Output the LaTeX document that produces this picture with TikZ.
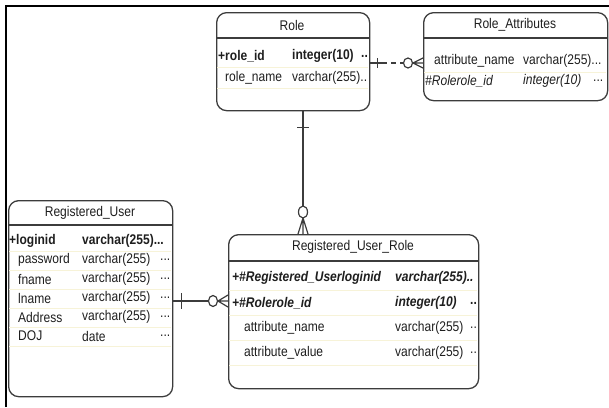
\documentclass[tikz,border=0pt]{standalone}
\usepackage{fontspec}
\newfontfamily\erfont[FakeStretch=0.86]{Liberation Sans}
\usetikzlibrary{calc,positioning}
\definecolor{eline}{HTML}{3C3C3C}
\definecolor{etext}{HTML}{1E1E1E}
\definecolor{erow}{HTML}{F7F3D8}
\tikzset{
  etable/.style={draw=eline, line width=1.3pt, rounded corners=10pt,
                 anchor=north west, inner sep=0pt},
  ehead/.style={text=etext, inner sep=0pt,
                font=\erfont\fontsize{14}{16}\selectfont},
  ecell/.style={ehead, anchor=west},
  ekey/.style={ecell, font=\erfont\fontsize{14}{16}\selectfont\bfseries},
  efkey/.style={ecell, font=\erfont\fontsize{14}{16}\selectfont\itshape},
  epfkey/.style={ecell, font=\erfont\fontsize{14}{16}\selectfont\bfseries\itshape},
  esep/.style={draw=eline, line width=1.1pt},
  erowline/.style={draw=erow, line width=0.8pt},
  erel/.style={draw=eline, line width=1.2pt},
}
\begin{document}
\begin{tikzpicture}[x=1pt,y=-1pt]
  \useasboundingbox (0,0) rectangle (609,407);
  % frame
  \draw[line width=2.6pt] (6,407) -- (6,6) -- (609,6);

  % ---- Role ----
  \node[etable, minimum width=153pt, minimum height=98pt] (role) at (216,12) {};
  \draw[esep] (role.west |- 0,38) -- (role.east |- 0,38);
  \node[ehead] (role-hd) at (292,25) {Role};
  \draw[erowline] (217,67) -- (368,67);
  \draw[erowline] (217,88) -- (368,88);
  \node[ekey] (role-n1) at (218,56) {+role\_id};
  \node[ekey] (role-t1) at (292,56) {integer(10)};
  \node[ekey] (role-d1) at (361,56) {..};
  \node[ecell] (role-n2) at (225,78) {role\_name};
  \node[ecell] (role-t2) at (292,78) {varchar(255)..};

  % ---- Role_Attributes ----
  \node[etable, minimum width=184pt, minimum height=88pt] (roleattr) at (423,12) {};
  \draw[esep] (roleattr.west |- 0,38) -- (roleattr.east |- 0,38);
  \node[ehead] (ra-hd) at (515,25) {Role\_Attributes};
  \draw[erowline] (424,72) -- (606,72);
  \node[ecell] (ra-n1) at (434,61) {attribute\_name};
  \node[ecell] (ra-t1) at (523,61) {varchar(255)...};
  \node[efkey] (ra-n2) at (425,81) {\#Rolerole\_id};
  \node[efkey] (ra-t2) at (523,81) {integer(10)};
  \node[ecell] (ra-d2) at (593,81) {...};

  % ---- Registered_User ----
  \node[etable, minimum width=164pt, minimum height=196pt] (reguser) at (8,200) {};
  \draw[esep] (reguser.west |- 0,225) -- (reguser.east |- 0,225);
  \node[ehead] (ru-hd) at (90,213) {Registered\_User};
  \node[ekey] (ru-n0) at (9,241) {+loginid};
  \node[ekey] (ru-t0) at (82,241) {varchar(255)...};
  \draw[erowline] (9,251) -- (171,251);
  \foreach \n/\t/\y [count=\i] in {password/varchar(255)/260,
      fname/varchar(255)/279, lname/varchar(255)/298,
      Address/varchar(255)/317, DOJ/date/336} {
    \node[ecell] (ru-n\i) at (18,\y) {\n};
    \node[ecell] (ru-t\i) at (82,\y) {\t};
    \node[ecell] (ru-d\i) at (160,\y) {...};
    \draw[erowline] (9,\y+10) -- (171,\y+10);
  }

  % ---- Registered_User_Role ----
  \node[etable, minimum width=250pt, minimum height=154pt] (rur) at (228,234) {};
  \draw[esep] (rur.west |- 0,261) -- (rur.east |- 0,261);
  \node[ehead] (rur-hd) at (353,247) {Registered\_User\_Role};
  \node[epfkey] (rur-n1) at (232,278) {+\#Registered\_Userloginid};
  \node[epfkey] (rur-t1) at (395,278) {varchar(255)..};
  \node[epfkey] (rur-n2) at (232,303) {+\#Rolerole\_id};
  \node[epfkey] (rur-t2) at (395,303) {integer(10)};
  \node[ekey] (rur-d2) at (470,303) {..};
  \node[ecell] (rur-n3) at (244,328) {attribute\_name};
  \node[ecell] (rur-t3) at (395,328) {varchar(255)};
  \node[ecell] (rur-d3) at (470,328) {..};
  \node[ecell] (rur-n4) at (244,353) {attribute\_value};
  \node[ecell] (rur-t4) at (395,353) {varchar(255)};
  \node[ecell] (rur-d4) at (470,353) {..};
  \foreach \y in {290,315,340,365}
    \draw[erowline] (229,\y) -- (477,\y);

  % ---- relationships ----
  % Role -- Role_Attributes
  \coordinate (ra-from) at (role.east |- 0,63);
  \coordinate (ra-to) at (roleattr.west |- 0,63);
  \draw[erel] (ra-from) -- ++(12,0);
  \draw[erel, dashed, dash pattern=on 5pt off 4pt] ($(ra-from)+(12,0)$) -- ($(ra-to)+(-19,0)$);
  \draw[erel] ($(ra-from)+(7,-5)$) -- ++(0,10);
  \draw[erel, fill=white] ($(ra-to)+(-15,0)$) ellipse [x radius=4.5pt, y radius=5pt];
  \draw[erel] ($(ra-to)+(-10,0)$) -- ($(ra-to)+(0,-5)$)
              ($(ra-to)+(-10,0)$) -- (ra-to)
              ($(ra-to)+(-10,0)$) -- ($(ra-to)+(0,5)$);

  % Role -- Registered_User_Role
  \coordinate (rur-from) at (role.south -| 303,0);
  \coordinate (rur-to) at (rur.north -| 303,0);
  \draw[erel] (rur-from) -- ($(rur-to)+(0,-28)$);
  \draw[erel] ($(rur-from)+(-6,16)$) -- ++(12,0);
  \draw[erel, fill=white] ($(rur-to)+(0,-22)$) ellipse [x radius=4.5pt, y radius=6pt];
  \draw[erel] ($(rur-to)+(0,-16)$) -- ($(rur-to)+(-5,0)$)
              ($(rur-to)+(0,-16)$) -- (rur-to)
              ($(rur-to)+(0,-16)$) -- ($(rur-to)+(5,0)$);

  % Registered_User -- Registered_User_Role
  \coordinate (ru-from) at (reguser.east |- 0,301);
  \coordinate (ru-to) at (rur.west |- 0,301);
  \draw[erel] (ru-from) -- ($(ru-to)+(-20,0)$);
  \draw[erel] ($(ru-from)+(8,-8)$) -- ++(0,16);
  \draw[erel, fill=white] ($(ru-to)+(-15,0)$) ellipse [x radius=4.5pt, y radius=5.5pt];
  \draw[erel] ($(ru-to)+(-10,0)$) -- ($(ru-to)+(0,-6)$)
              ($(ru-to)+(-10,0)$) -- (ru-to)
              ($(ru-to)+(-10,0)$) -- ($(ru-to)+(0,6)$);
\end{tikzpicture}
\end{document}
